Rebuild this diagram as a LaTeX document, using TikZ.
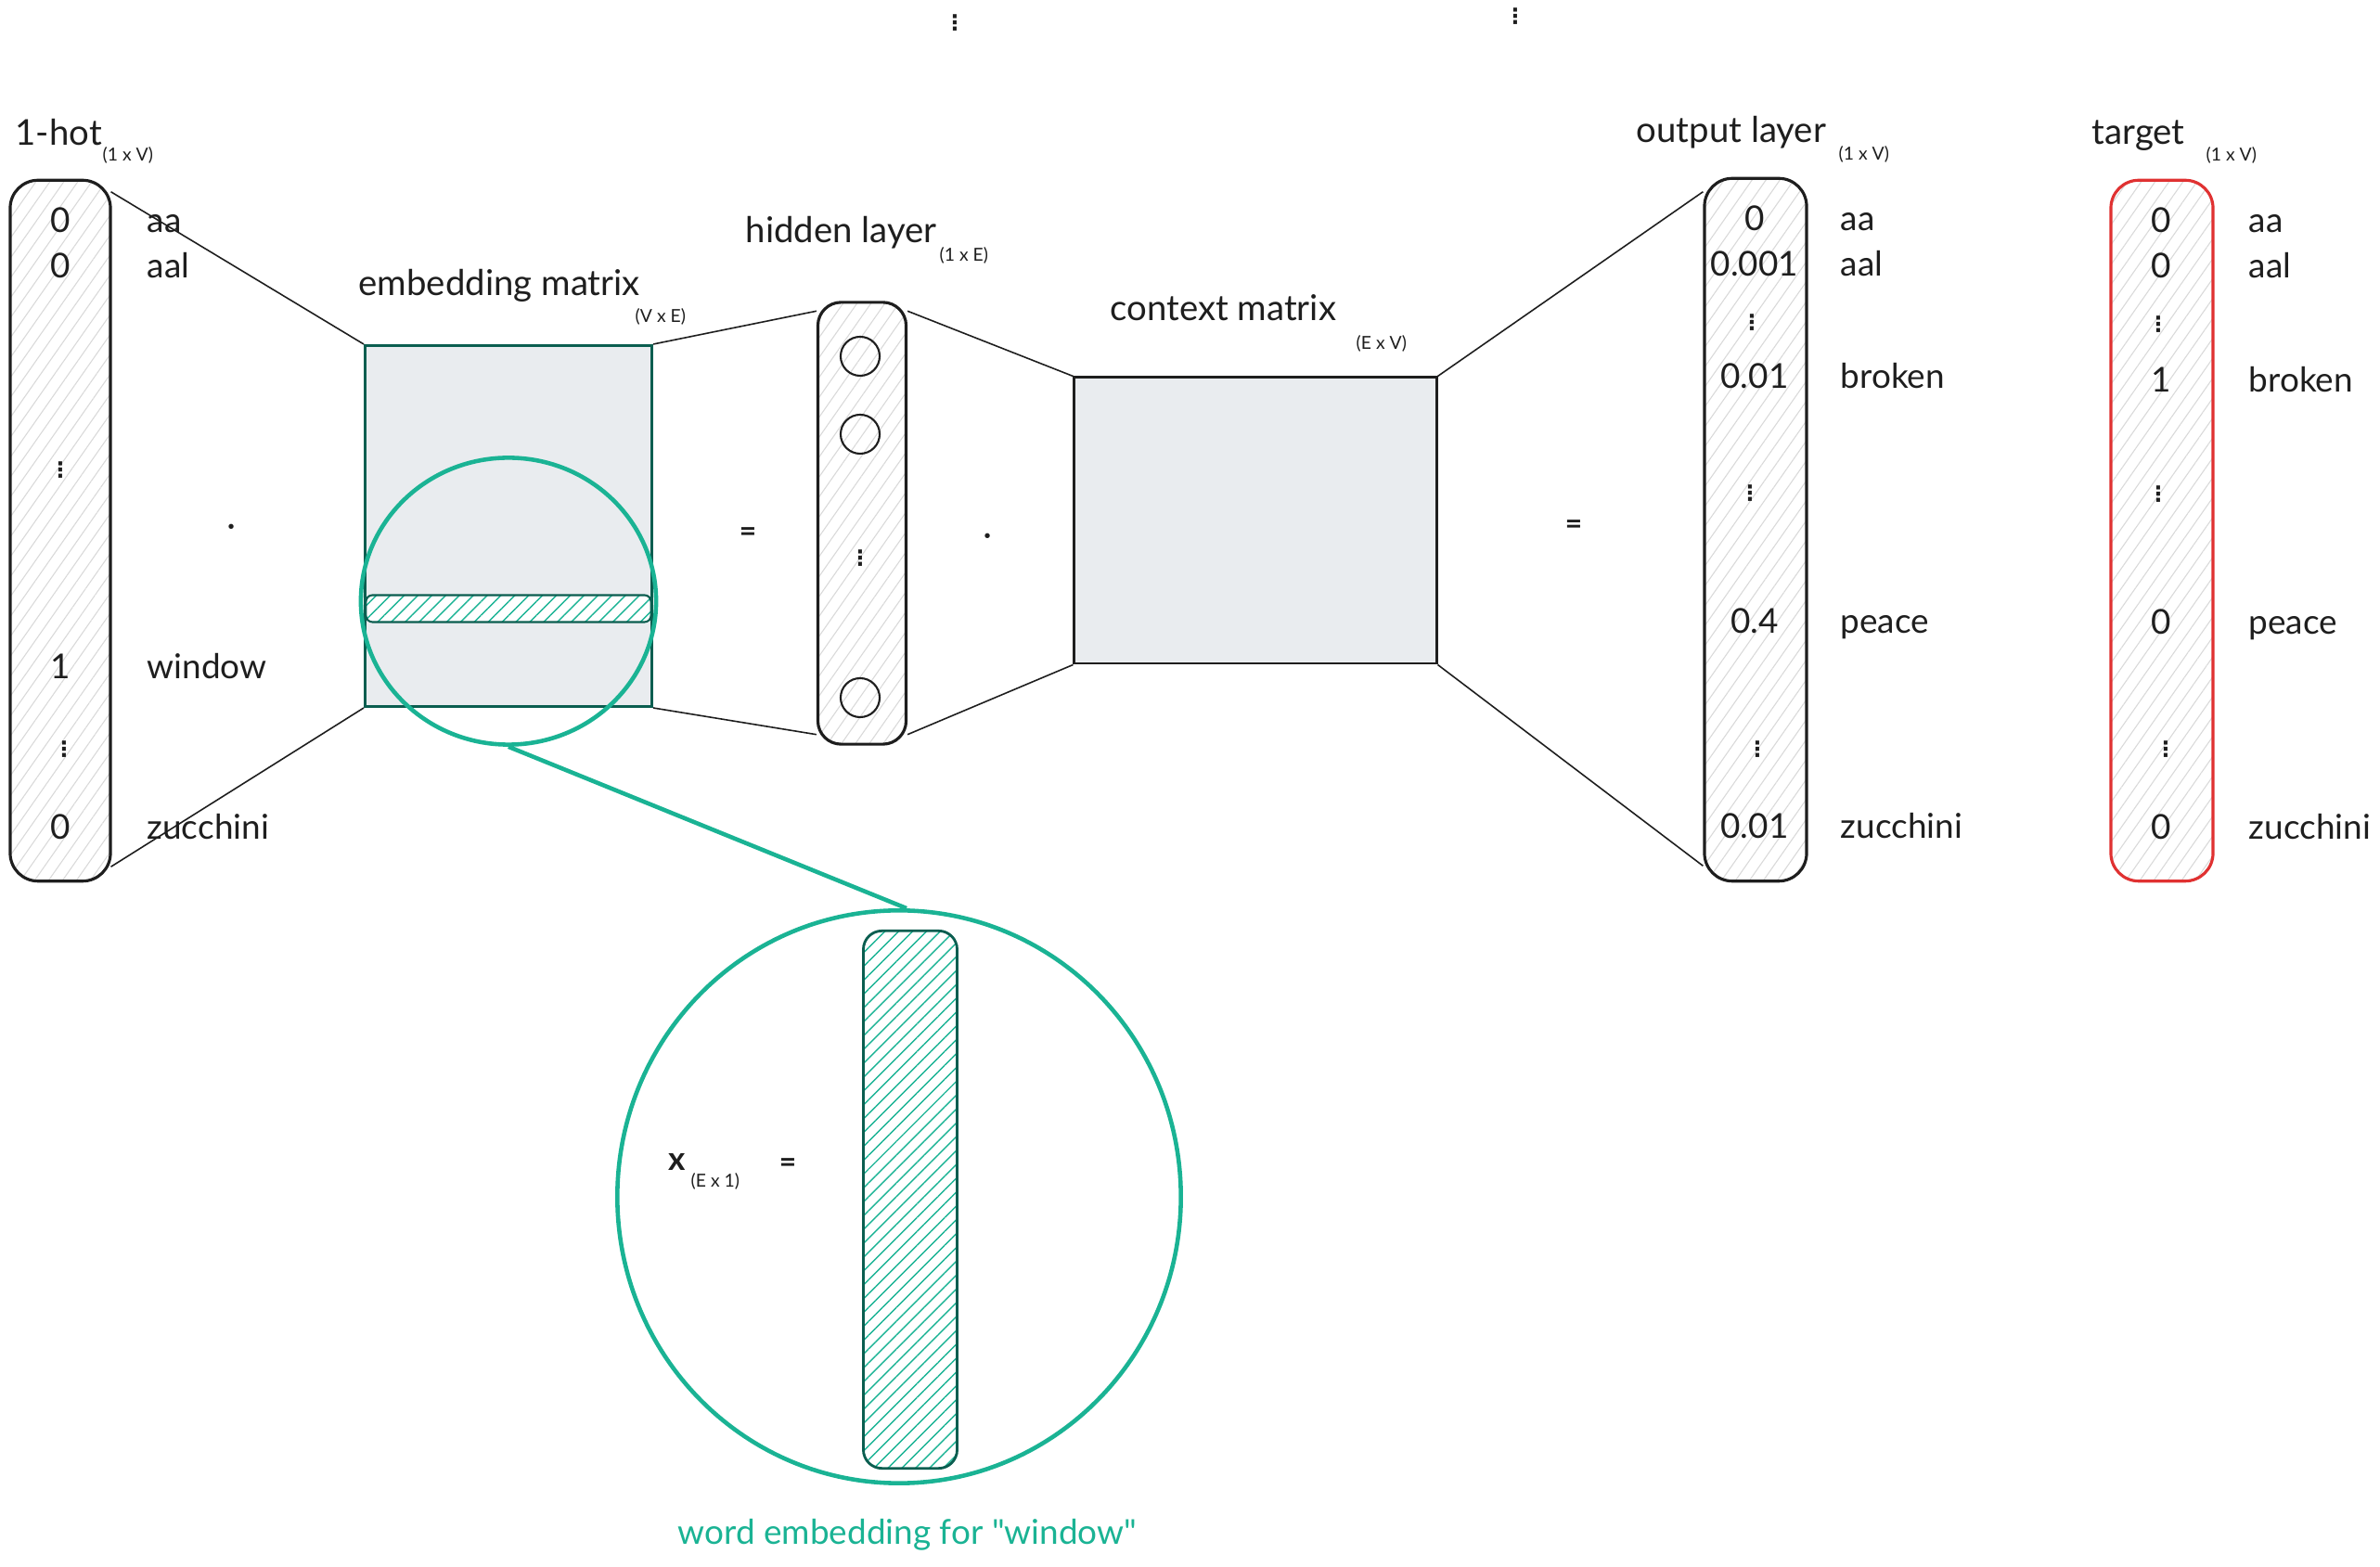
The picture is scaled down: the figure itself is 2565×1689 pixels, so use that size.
\documentclass[tikz,border=0pt]{standalone}
\usepackage{fontspec}
\setmainfont{Lato}
\newfontfamily\symfont{DejaVu Sans}
\newfontfamily\capfont{Lato}[Ligatures=TeXOff]
\usetikzlibrary{shapes.geometric,patterns.meta}
\definecolor{teal1}{HTML}{1AB394}
\definecolor{tealdark}{HTML}{0B5E50}
\definecolor{matgray}{HTML}{E9ECEF}
\definecolor{red1}{HTML}{E03131}
\definecolor{ink}{HTML}{1E1E1E}
\newcommand{\vd}{{\symfont\bfseries ⋮}}

\begin{document}
\begin{tikzpicture}[x=0.01cm, y=-0.01cm]
	\tikzset{
		vec/.style={rectangle, rounded corners=0.3cm, draw=ink, line width=0.9pt, inner sep=0pt,
			pattern={Lines[angle=55,distance=3.5pt,line width=0.3pt]}, pattern color=gray!30},
		mat/.style={rectangle, draw=ink, line width=0.8pt, fill=matgray, inner sep=0pt},
		unit/.style={circle, draw=ink, line width=0.6pt, minimum size=0.42cm, inner sep=0pt},
		val/.style={font=\fontsize{10.5}{12}\selectfont, text=ink, text height=1.6ex, text depth=0.3ex},
		word/.style={font=\fontsize{10.5}{12}\selectfont, text=ink, anchor=west, text height=1.6ex, text depth=0.3ex, inner sep=0pt},
		title/.style={font=\fontsize{10.9}{13}\selectfont, text=ink, anchor=base west, inner sep=0pt},
		dim/.style={font=\fontsize{5.5}{6}\selectfont, text=ink, anchor=base west, inner sep=0pt},
		vdots/.style={font=\fontsize{6.5}{7}\selectfont, text=ink, inner sep=0pt},
		op/.style={font=\bfseries\fontsize{9}{10}\selectfont, text=ink, inner sep=0pt},
		link/.style={draw=ink, line width=0.45pt},
		lens/.style={ellipse, draw=teal1, line width=1.3pt, inner sep=0pt},
		hatch/.style={rectangle, draw=tealdark, line width=0.6pt, inner sep=0pt, preaction={fill=white},
			pattern={Lines[angle=45,distance=3pt,line width=0.4pt]}, pattern color=teal1}
	}
	\useasboundingbox[fill=white] (0,0) rectangle (2565,1689);

	% stray dots on top
	\node[vdots] (top1) at (1029,25) {\vd};
	\node[vdots] (top2) at (1633,18) {\vd};

	% 1-hot input
	\node[vec, minimum width=1.08cm, minimum height=7.55cm] (onehot) at (65,572) {};
	\node[title] (onehotT) at (16,157) {1-hot};
	\node[dim] (onehotD) at (110,174) {(1 x V)};
	\foreach \y/\v/\w [count=\i] in {239/0/aa, 288/0/aal, 720/1/window, 893/0/zucchini} {
		\node[val] (oh\i) at (65,\y) {\v};
		\node[word] (ohw\i) at (158,\y) {\w};
	}
	\node[vdots] (ohd1) at (65,507) {\vd};
	\node[vdots] (ohd2) at (69,808) {\vd};
	\node[op, font=\Large] (dot1) at (250,569) {$\cdot$};

	% embedding matrix
	\node[mat, draw=tealdark, minimum width=3.09cm, minimum height=3.89cm] (emb) at (548,567) {};
	\node[hatch, rounded corners=2pt, minimum width=3.07cm, minimum height=0.29cm] (row) at (548,656) {};
	\node[title] (embT) at (386,319) {embedding matrix};
	\node[dim] (embD) at (684,348) {(V x E)};
	\node[lens, minimum width=3.18cm, minimum height=3.09cm] (lensS) at (548,648) {};
	\node[op] (eq1) at (806,576) {=};

	% hidden layer
	\node[vec, rounded corners=0.25cm, minimum width=0.95cm, minimum height=4.76cm] (hidden) at (929,564) {};
	\foreach \y [count=\i] in {384,468,752}
		\node[unit] (h\i) at (927,\y) {};
	\node[vdots] (hd) at (927,602) {\vd};
	\node[title] (hiddenT) at (803,262) {hidden layer};
	\node[dim] (hiddenD) at (1012,282) {(1 x E)};
	\node[op, font=\Large] (dot2) at (1065,579) {$\cdot$};

	% context matrix
	\node[mat, minimum width=3.90cm, minimum height=3.08cm] (ctx) at (1353,561) {};
	\node[title] (ctxT) at (1196,346) {context matrix};
	\node[dim] (ctxD) at (1461,377) {(E x V)};
	\node[op] (eq2) at (1696,568) {=};

	% output layer
	\node[vec, minimum width=1.10cm, minimum height=7.57cm] (out) at (1892,571) {};
	\node[title] (outT) at (1763,154) {output layer};
	\node[dim] (outD) at (1981,173) {(1 x V)};
	\foreach \y/\v/\w [count=\i] in {237/0/aa, 286/0.001/aal, 407/0.01/broken, 671/0.4/peace, 892/0.01/zucchini} {
		\node[val] (o\i) at (1891,\y) {\v};
		\node[word] (ow\i) at (1983,\y) {\w};
	}
	\foreach \x/\y [count=\i] in {1888/348, 1886/532, 1894/808}
		\node[vdots] (od\i) at (\x,\y) {\vd};

	% target
	\node[vec, draw=red1, minimum width=1.10cm, minimum height=7.55cm] (tgt) at (2330,572) {};
	\node[title] (tgtT) at (2254,156) {target};
	\node[dim] (tgtD) at (2377,174) {(1 x V)};
	\foreach \y/\v/\w [count=\i] in {239/0/aa, 288/0/aal, 411/1/broken, 672/0/peace, 893/0/zucchini} {
		\node[val] (t\i) at (2329,\y) {\v};
		\node[word] (tw\i) at (2423,\y) {\w};
	}
	\foreach \x/\y [count=\i] in {2326/350, 2326/533, 2334/808}
		\node[vdots] (td\i) at (\x,\y) {\vd};

	% connecting lines
	\draw[link] ([yshift=-0.13cm]onehot.north east) -- (emb.north west);
	\draw[link] ([yshift=0.16cm]onehot.south east) -- (emb.south west);
	\draw[link] (emb.north east) -- ([yshift=-0.11cm]hidden.north west);
	\draw[link] (emb.south east) -- ([yshift=0.12cm]hidden.south west);
	\draw[link] ([yshift=-0.11cm]hidden.north east) -- (ctx.north west);
	\draw[link] ([yshift=0.12cm]hidden.south east) -- (ctx.south west);
	\draw[link] (ctx.north east) -- ([yshift=-0.16cm]out.north west);
	\draw[link] (ctx.south east) -- ([yshift=0.18cm]out.south west);

	% zoomed word embedding
	\node[lens, minimum width=6.07cm, minimum height=6.17cm] (lensB) at (969,1290) {};
	\draw[teal1, line width=1.3pt] (lensS.south) -- ([xshift=0.08cm]lensB.north);
	\node[hatch, rounded corners=0.2cm, line width=0.8pt, minimum width=1.01cm, minimum height=5.79cm] (vecx) at (981,1293) {};
	\node[op, font=\bfseries\fontsize{10}{12}\selectfont] (xlab) at (730,1252) {x};
	\node[dim] (xdim) at (744,1280) {(E x 1)};
	\node[op] (eq3) at (849,1256) {=};
	\node[font=\capfont\fontsize{10.5}{12}\selectfont, text=teal1] (cap) at (978,1654) {word embedding for "window"};
\end{tikzpicture}
\end{document}
